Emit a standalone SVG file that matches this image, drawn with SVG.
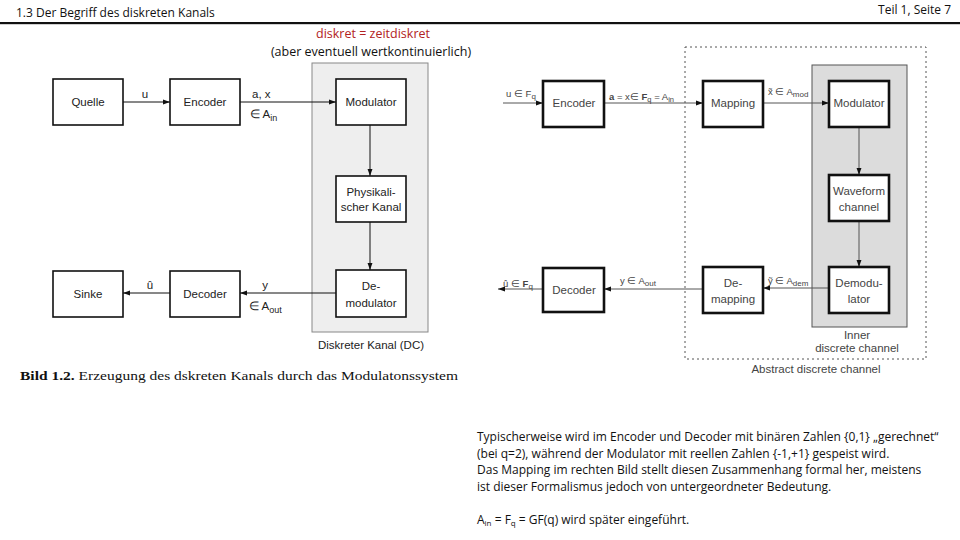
<svg xmlns="http://www.w3.org/2000/svg" width="960" height="540" viewBox="0 0 960 540">
<defs>
<marker id="ah" viewBox="0 0 10 10" refX="10" refY="5" markerWidth="9" markerHeight="7" markerUnits="userSpaceOnUse" orient="auto"><path d="M0,1.5 L10,5 L0,8.5 z" fill="#111"/></marker>
<style>
.hd{font-family:"Open Sans","Liberation Sans",sans-serif;font-size:12px;fill:#111}
.bx{fill:#fff;stroke:#111;stroke-width:1.6}
.bx2{fill:#fff;stroke:#111;stroke-width:2.6}
.lt{font-family:"Liberation Sans",Arial,sans-serif;font-size:11.5px;fill:#222}
.rt{font-family:"Liberation Sans",Arial,sans-serif;font-size:11.5px;fill:#444}
.sm{font-family:"Liberation Sans",Arial,sans-serif;font-size:9.5px;fill:#444}
.ln{stroke:#111;stroke-width:1;fill:none}
.lg{stroke:#555;stroke-width:1;fill:none}
.body{font-family:"Open Sans","Liberation Sans",sans-serif;font-size:12px;fill:#111}
</style>
</defs>
<rect width="960" height="540" fill="#fff"/>
<text class="hd" x="16" y="17">1.3  Der Begriff des diskreten Kanals</text>
<text class="hd" x="951" y="14" text-anchor="end" font-size="11">Teil 1, Seite 7</text>
<rect x="0" y="22" width="960" height="2.2" fill="#111"/>
<text x="373" y="38" text-anchor="middle" font-family="Open Sans,Liberation Sans,sans-serif" font-size="12.5" fill="#b22222">diskret = zeitdiskret</text>
<text x="371" y="56" text-anchor="middle" font-family="Open Sans,Liberation Sans,sans-serif" font-size="12.5" fill="#111">(aber eventuell wertkontinuierlich)</text>

<!-- left diagram -->
<rect x="312" y="63" width="116" height="269" fill="#eeeeee" stroke="#888" stroke-width="1"/>
<g id="connectors-left">
<line class="ln" x1="123" y1="102" x2="170" y2="102" marker-end="url(#ah)"/>
<line class="ln" x1="240" y1="102" x2="336" y2="102" marker-end="url(#ah)"/>
<line class="ln" x1="370" y1="125" x2="370" y2="176" marker-end="url(#ah)"/>
<line class="ln" x1="370" y1="222" x2="370" y2="270" marker-end="url(#ah)"/>
<line class="ln" x1="336" y1="293" x2="240" y2="293" marker-end="url(#ah)"/>
<line class="ln" x1="170" y1="293" x2="123" y2="293" marker-end="url(#ah)"/>
<text class="lt" x="145" y="98" text-anchor="middle">u</text>
<text class="lt" x="252" y="98">a, x</text>
<text class="lt" x="250" y="118">∈ A<tspan font-size="9" dy="3">in</tspan></text>
<text class="lt" x="150" y="289" text-anchor="middle">û</text>
<text class="lt" x="265" y="289" text-anchor="middle">y</text>
<text class="lt" x="249" y="310">∈ A<tspan font-size="9" dy="3">out</tspan></text>
</g>
<g id="quelle"><rect class="bx" x="53" y="79" width="70" height="46"/><text class="lt" x="88" y="106" text-anchor="middle">Quelle</text></g>
<g id="encoder"><rect class="bx" x="170" y="79" width="70" height="46"/><text class="lt" x="205" y="106" text-anchor="middle">Encoder</text></g>
<g id="modulator"><rect class="bx" x="336" y="79" width="70" height="46"/><text class="lt" x="371" y="106" text-anchor="middle">Modulator</text></g>
<g id="phys"><rect class="bx" x="336" y="176" width="70" height="46"/><text class="lt" x="371" y="196" text-anchor="middle" font-size="10.5">Physikali-</text><text class="lt" x="371" y="211" text-anchor="middle" font-size="10.5">scher Kanal</text></g>
<g id="demodulator"><rect class="bx" x="336" y="270" width="70" height="47"/><text class="lt" x="371" y="290" text-anchor="middle">De-</text><text class="lt" x="371" y="307" text-anchor="middle">modulator</text></g>
<g id="sinke"><rect class="bx" x="53" y="271" width="70" height="46"/><text class="lt" x="88" y="298" text-anchor="middle">Sinke</text></g>
<g id="decoder"><rect class="bx" x="170" y="271" width="70" height="46"/><text class="lt" x="205" y="298" text-anchor="middle">Decoder</text></g>
<text class="lt" x="371" y="349" text-anchor="middle">Diskreter Kanal (DC)</text>
<text x="20" y="380" font-family="Liberation Serif,serif" font-size="12.5" fill="#111" textLength="438" lengthAdjust="spacingAndGlyphs"><tspan font-weight="bold">Bild 1.2.</tspan> Erzeugung des dskreten  Kanals durch das Modulatonssystem</text>

<!-- right diagram -->
<rect x="685" y="47" width="241" height="312" fill="none" stroke="#555" stroke-width="1" stroke-dasharray="2,3"/>
<rect x="812" y="65" width="95" height="262" fill="#dcdcdc" stroke="#555" stroke-width="1"/>
<g id="connectors-right">
<line class="lg" x1="503" y1="103" x2="543" y2="103" marker-end="url(#ah)"/>
<line class="lg" x1="604" y1="103" x2="703" y2="103" stroke="#aaa" marker-end="url(#ah)"/>
<line class="lg" x1="763" y1="103" x2="829" y2="103" marker-end="url(#ah)"/>
<line class="lg" x1="859" y1="127" x2="859" y2="175" marker-end="url(#ah)"/>
<line class="lg" x1="859" y1="221" x2="859" y2="267" marker-end="url(#ah)"/>
<line class="lg" x1="829" y1="288" x2="763" y2="288" marker-end="url(#ah)"/>
<line class="lg" x1="703" y1="289" x2="604" y2="289" marker-end="url(#ah)"/>
<line class="lg" x1="543" y1="289" x2="498" y2="289" marker-end="url(#ah)"/>
<text class="sm" x="506" y="97">u ∈ F<tspan font-size="8" dy="2">q</tspan></text>
<text class="sm" x="609" y="100"><tspan font-weight="bold">a</tspan> = x∈ <tspan font-weight="bold">F</tspan><tspan font-size="7.5" dy="2">q</tspan><tspan dy="-2"> = A</tspan><tspan font-size="7.5" dy="2">in</tspan></text>
<text class="sm" x="768" y="95">x̃ ∈ A<tspan font-size="8" dy="2">mod</tspan></text>
<text class="sm" x="768" y="284">ỹ ∈ A<tspan font-size="8" dy="2">dem</tspan></text>
<text class="sm" x="620" y="284">y ∈ A<tspan font-size="8" dy="2">out</tspan></text>
<text class="sm" x="503" y="287">û ∈ <tspan font-weight="bold">F</tspan><tspan font-size="8" dy="2">q</tspan></text>
</g>
<g id="r-encoder"><rect class="bx2" x="543" y="81" width="61" height="46"/><text class="rt" x="574" y="107" text-anchor="middle">Encoder</text></g>
<g id="r-mapping"><rect class="bx2" x="703" y="81" width="60" height="46"/><text class="rt" x="733" y="107" text-anchor="middle">Mapping</text></g>
<g id="r-modulator"><rect class="bx2" x="829" y="81" width="60" height="46"/><text class="rt" x="859" y="107" text-anchor="middle">Modulator</text></g>
<g id="r-waveform"><rect class="bx2" x="829" y="175" width="60" height="46"/><text class="rt" x="859" y="195" text-anchor="middle">Waveform</text><text class="rt" x="859" y="211" text-anchor="middle">channel</text></g>
<g id="r-demodulator"><rect class="bx2" x="829" y="267" width="60" height="46"/><text class="rt" x="859" y="287" text-anchor="middle">Demodu-</text><text class="rt" x="859" y="303" text-anchor="middle">lator</text></g>
<g id="r-demapping"><rect class="bx2" x="703" y="267" width="60" height="46"/><text class="rt" x="733" y="287" text-anchor="middle">De-</text><text class="rt" x="733" y="303" text-anchor="middle">mapping</text></g>
<g id="r-decoder"><rect class="bx2" x="543" y="268" width="61" height="44"/><text class="rt" x="574" y="294" text-anchor="middle">Decoder</text></g>
<text class="rt" x="857" y="339" text-anchor="middle">Inner</text>
<text class="rt" x="857" y="352" text-anchor="middle">discrete channel</text>
<text class="rt" x="816" y="373" text-anchor="middle">Abstract discrete channel</text>

<!-- body text -->
<text class="body" x="477" y="441">Typischerweise wird im Encoder und Decoder mit binären Zahlen {0,1} „gerechnet“</text>
<text class="body" x="477" y="458">(bei q=2), während der Modulator mit reellen Zahlen {-1,+1} gespeist wird.</text>
<text class="body" x="477" y="474">Das Mapping im rechten Bild stellt diesen Zusammenhang formal her, meistens</text>
<text class="body" x="477" y="491">ist dieser Formalismus jedoch von untergeordneter Bedeutung.</text>
<text class="body" x="477" y="524">A<tspan font-size="8" dy="2">in</tspan><tspan dy="-2"> = F</tspan><tspan font-size="8" dy="2">q</tspan><tspan dy="-2"> = GF(q) wird später eingeführt.</tspan></text>
</svg>
